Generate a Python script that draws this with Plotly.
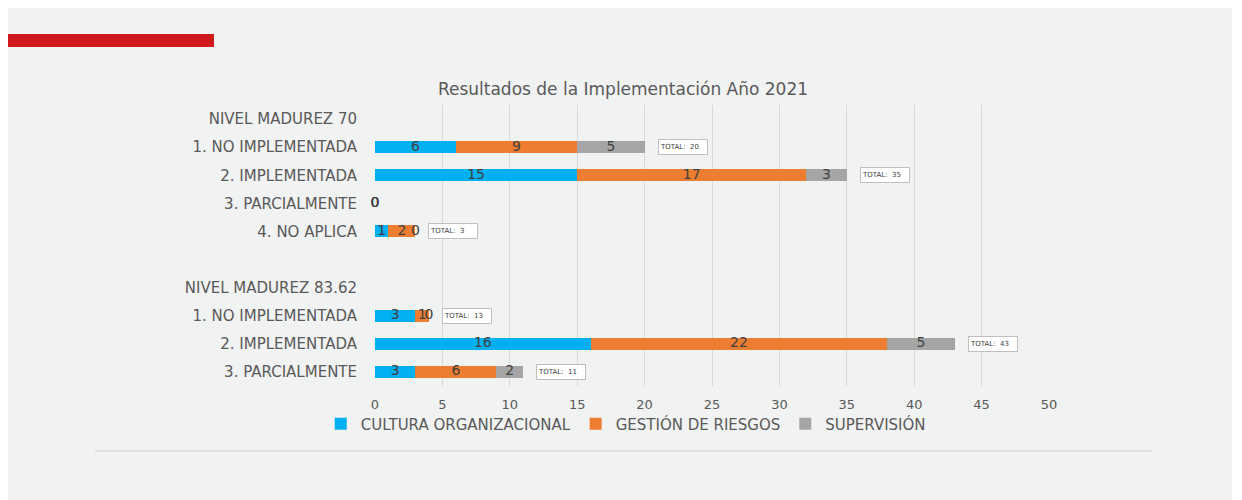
import plotly.graph_objects as go

# rows of the chart, top to bottom
categories = [
    "NIVEL MADUREZ 70",
    "1. NO IMPLEMENTADA",
    "2. IMPLEMENTADA",
    "3. PARCIALMENTE",
    "4. NO APLICA",
    "",
    "NIVEL MADUREZ 83.62",
    "1. NO IMPLEMENTADA",
    "2. IMPLEMENTADA",
    "3. PARCIALMENTE",
]

cultura = [None, 6, 15, 0, 1, None, None, 3, 16, 3]
gestion = [None, 9, 17, 0, 2, None, None, 1, 22, 6]
supervision = [None, 5, 3, 0, 0, None, None, 0, 5, 2]
totals = [None, 20, 35, None, 3, None, None, 13, 43, 11]

series = [
    ("CULTURA ORGANIZACIONAL", cultura, "#00b0f0"),
    ("GESTIÓN DE RIESGOS", gestion, "#ed7d31"),
    ("SUPERVISIÓN", supervision, "#a5a5a5"),
]

FONT = "DejaVu Sans"
rows = list(range(len(categories)))

fig = go.Figure()

base = [0 if v is not None else None for v in cultura]
for name, vals, color in series:
    fig.add_trace(go.Bar(
        y=rows, x=vals, name=name, orientation="h",
        marker=dict(color=color, line=dict(width=0)),
        hoverinfo="skip",
    ))

# data labels centred on each segment (zeros included, like the original)
for name, vals, color in series:
    xs, ys, ts = [], [], []
    for i, v in enumerate(vals):
        if v is None:
            continue
        xs.append(base[i] + v / 2)
        ys.append(i)
        ts.append(str(v))
        base[i] += v
    fig.add_trace(go.Scatter(
        x=xs, y=ys, text=ts, mode="text", showlegend=False,
        textfont=dict(family=FONT, size=14, color="#404040"),
        cliponaxis=False, hoverinfo="skip",
    ))

for i, t in enumerate(totals):
    if t is None:
        continue
    fig.add_annotation(
        x=base[i], y=i, xanchor="left", xshift=13, showarrow=False,
        text="TOTAL:  %d" % t, font=dict(family=FONT, size=7, color="#404040"),
        bgcolor="white", bordercolor="#bfbfbf", borderwidth=1,
        width=46, height=12, align="left",
    )

# page decoration: gray panel, red bar, bottom rule
fig.add_shape(type="rect", xref="paper", yref="paper", layer="below",
              x0=-0.5445, x1=1.2715, y0=-0.45, y1=1.352,
              fillcolor="#f1f2f2", line=dict(width=0))
fig.add_shape(type="rect", xref="paper", yref="paper",
              x0=-0.5445, x1=-0.2389, y0=1.2064, y1=1.2527,
              fillcolor="#d0181c", line=dict(width=0))
fig.add_shape(type="line", xref="paper", yref="paper",
              x0=-0.4154, x1=1.1528, y0=-0.2313, y1=-0.2313,
              line=dict(color="#e0e0e0", width=2))

fig.update_layout(
    width=1242, height=500,
    barmode="stack", bargap=0.57,
    paper_bgcolor="white", plot_bgcolor="rgba(0,0,0,0)",
    margin=dict(l=367, r=201, t=97, b=122),
    title=dict(text="Resultados de la Implementación Año 2021",
               x=(623 - 8) / 1242, y=1 - 81 / 500, xanchor="center", yanchor="middle",
               font=dict(family=FONT, size=17, color="#595959")),
    font=dict(family=FONT, size=13, color="#595959"),
    xaxis=dict(range=[0, 50], dtick=5, showgrid=True, gridcolor="#d9d9d9",
               gridwidth=1, zeroline=False, showline=False,
               tickfont=dict(family=FONT, size=13, color="#595959"),
               ticklabelstandoff=9),
    yaxis=dict(tickvals=rows, ticktext=categories, range=[9.5, -0.5],
               showgrid=False, zeroline=False, showline=False,
               tickfont=dict(family=FONT, size=15, color="#595959"),
               ticklabelstandoff=17),
    legend=dict(orientation="h", x=0.372, xanchor="center", y=-0.135,
                yanchor="middle", font=dict(family=FONT, size=15, color="#595959"),
                itemwidth=30, traceorder="normal", bgcolor="rgba(0,0,0,0)"),
)

fig.write_html("out.html")
